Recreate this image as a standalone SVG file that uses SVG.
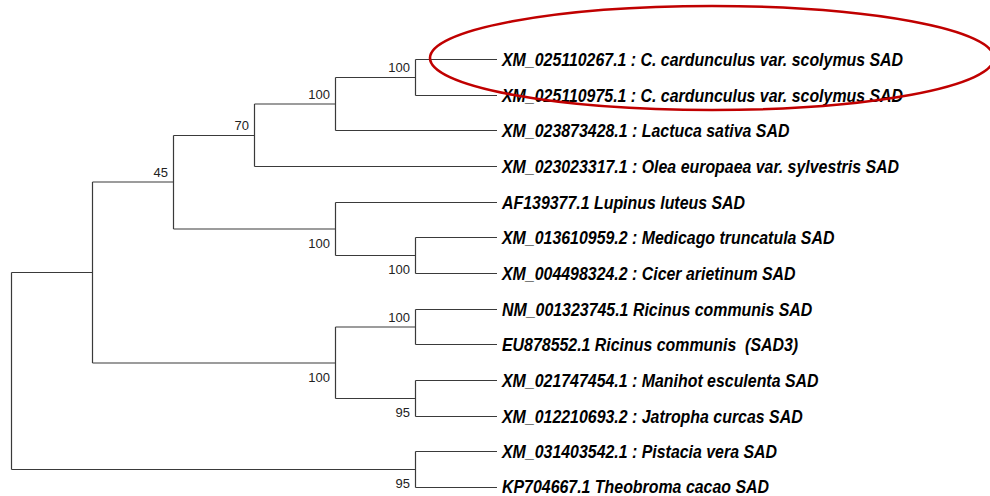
<svg xmlns="http://www.w3.org/2000/svg" width="990" height="496" viewBox="0 0 990 496">
<style>
.br{fill:none;stroke:#3a3a3a;stroke-width:1.2}
.bs{font-family:"Liberation Sans",Arial,sans-serif;font-size:13px;fill:#222;text-anchor:end}
.lf{font-family:"Liberation Sans",Arial,sans-serif;font-size:18.5px;font-weight:bold;font-style:italic;fill:#000}
</style>
<rect width="990" height="496" fill="#fff"/>
<g id="connectors" class="br">
<path d="M11.5 272.5V469.5M11.5 272.5H92.5M11.5 469.5H415.5"/>
<path d="M92.5 182V363M92.5 182H173.5M92.5 363H335.5"/>
<path d="M173.5 135.5V229M173.5 135.5H254.5M173.5 229H335.5"/>
<path d="M254.5 104V166.5M254.5 104H335.5M254.5 166.5H497"/>
<path d="M335.5 77.5V130.5M335.5 77.5H415.5M335.5 130.5H497"/>
<path d="M415.5 59.5V95.5M415.5 59.5H497M415.5 95.5H497"/>
<path d="M335.5 202.5V255.5M335.5 202.5H497M335.5 255.5H415.5"/>
<path d="M415.5 237.5V273.5M415.5 237.5H497M415.5 273.5H497"/>
<path d="M335.5 327V398.5M335.5 327H415.5M335.5 398.5H415.5"/>
<path d="M415.5 309.5V344.5M415.5 309.5H497M415.5 344.5H497"/>
<path d="M415.5 380.5V416.5M415.5 380.5H497M415.5 416.5H497"/>
<path d="M415.5 451.5V487.5M415.5 451.5H497M415.5 487.5H497"/>
</g>
<g id="n-ccard" class="bs"><text x="410" y="72">100</text></g>
<g id="n-aster" class="bs"><text x="330" y="98.5">100</text></g>
<g id="n-lamiid" class="bs"><text x="249" y="130">70</text></g>
<g id="n-upper" class="bs"><text x="168" y="176.5">45</text></g>
<g id="n-fabaceae" class="bs"><text x="330" y="247.5">100</text></g>
<g id="n-medcic" class="bs"><text x="410" y="274">100</text></g>
<g id="n-ricinus" class="bs"><text x="410" y="321.5">100</text></g>
<g id="n-euph" class="bs"><text x="330" y="381.5">100</text></g>
<g id="n-manjat" class="bs"><text x="410" y="417">95</text></g>
<g id="n-sapind" class="bs"><text x="410" y="487.5">95</text></g>
<g id="leaf1" class="lf" transform="translate(502,0) scale(0.86,1)"><text x="0" y="66.3">XM_025110267.1 : C. cardunculus var. scolymus SAD</text></g>
<g id="leaf2" class="lf" transform="translate(502,0) scale(0.86,1)"><text x="0" y="102">XM_025110975.1 : C. cardunculus var. scolymus SAD</text></g>
<g id="leaf3" class="lf" transform="translate(502,0) scale(0.86,1)"><text x="0" y="137.5">XM_023873428.1 : Lactuca sativa SAD</text></g>
<g id="leaf4" class="lf" transform="translate(502,0) scale(0.86,1)"><text x="0" y="173.3">XM_023023317.1 : Olea europaea var. sylvestris SAD</text></g>
<g id="leaf5" class="lf" transform="translate(502,0) scale(0.86,1)"><text x="0" y="209">AF139377.1 Lupinus luteus SAD</text></g>
<g id="leaf6" class="lf" transform="translate(502,0) scale(0.86,1)"><text x="0" y="244.5">XM_013610959.2 : Medicago truncatula SAD</text></g>
<g id="leaf7" class="lf" transform="translate(502,0) scale(0.86,1)"><text x="0" y="280.3">XM_004498324.2 : Cicer arietinum SAD</text></g>
<g id="leaf8" class="lf" transform="translate(502,0) scale(0.86,1)"><text x="0" y="316">NM_001323745.1 Ricinus communis SAD</text></g>
<g id="leaf9" class="lf" transform="translate(502,0) scale(0.86,1)"><text x="0" y="351.5" xml:space="preserve">EU878552.1 Ricinus communis  (SAD3)</text></g>
<g id="leaf10" class="lf" transform="translate(502,0) scale(0.86,1)"><text x="0" y="387.3">XM_021747454.1 : Manihot esculenta SAD</text></g>
<g id="leaf11" class="lf" transform="translate(502,0) scale(0.86,1)"><text x="0" y="423">XM_012210693.2 : Jatropha curcas SAD</text></g>
<g id="leaf12" class="lf" transform="translate(502,0) scale(0.86,1)"><text x="0" y="458.5">XM_031403542.1 : Pistacia vera SAD</text></g>
<g id="leaf13" class="lf" transform="translate(502,0) scale(0.86,1)"><text x="0" y="493.5">KP704667.1 Theobroma cacao SAD</text></g>
<g id="highlight"><ellipse cx="712" cy="58" rx="282" ry="52" fill="none" stroke="#C00000" stroke-width="2.6"/></g>
</svg>
